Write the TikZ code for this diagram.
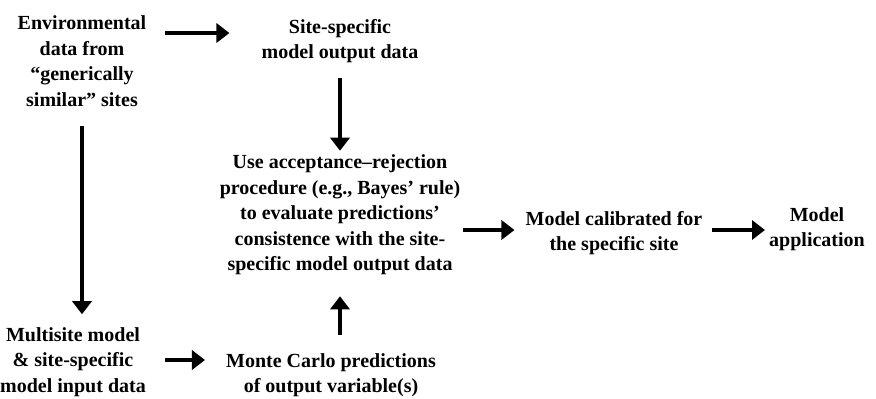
\documentclass[tikz,border=0pt]{standalone}
\usepackage{fontspec}
\setmainfont{Liberation Serif}
\usetikzlibrary{arrows.meta}
\begin{document}
\begin{tikzpicture}[x=1pt,y=-1pt,
  lbl/.style={align=center, inner sep=0pt, font=\fontsize{20}{25.5}\selectfont\bfseries},
  arr/.style={line width=3.6pt, -{Triangle[length=13pt,width=19pt]}}]
\useasboundingbox (0,0) rectangle (876,399);
\node[lbl] (env) at (82,61) {Environmental\\data from\\“generically\\similar” sites};
\node[lbl] (site) at (340,41) {Site-specific\\model output data};
\node[lbl] (central) at (340,215) {Use acceptance–rejection\\procedure (e.g., Bayes’ rule)\\to evaluate predictions’\\consistence with the site-\\specific model output data};
\node[lbl] (calib) at (614,233) {Model calibrated for\\the specific site};
\node[lbl] (app) at (817,229) {Model\\application};
\node[lbl] (multi) at (73,362) {Multisite model\\\& site-specific\\model input data};
\node[lbl] (monte) at (331,375) {Monte Carlo predictions\\of output variable(s)};

\draw[arr, shorten <=19pt, shorten >=32pt] (env.east |- 0,33) -- (site.west |- 0,33);
\draw[arr, shorten <=15pt, shorten >=4pt] (central.north |- site.south) -- (central.north);
\draw[arr, shorten <=20pt, shorten >=13pt] (env.south) -- (env.south |- multi.north);
\draw[arr, shorten <=19pt, shorten >=21pt] (multi.east |- 0,360) -- (monte.west |- 0,360);
\draw[arr, shorten <=18pt, shorten >=21pt] (central.south |- monte.north) -- (central.south);
\draw[arr, shorten <=3pt, shorten >=11pt] (central.east |- 0,230) -- (calib.west |- 0,230);
\draw[arr, shorten <=9pt, shorten >=4pt] (calib.east |- 0,230) -- (app.west |- 0,230);
\end{tikzpicture}
\end{document}
